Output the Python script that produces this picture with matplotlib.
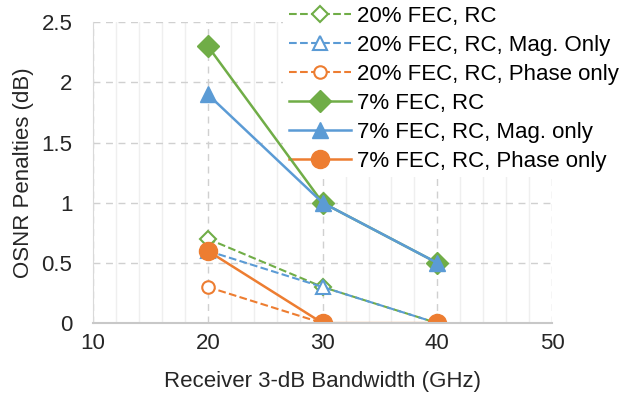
import matplotlib.pyplot as plt
from matplotlib.ticker import MultipleLocator

plt.rcParams['font.family'] = ['Liberation Sans', 'DejaVu Sans']

bandwidth = [20, 30, 40]
fec20_rc = [0.7, 0.3, 0.0]
fec20_mag = [0.6, 0.3, 0.0]
fec20_phase = [0.3, 0.0, 0.0]
fec7_rc = [2.3, 1.0, 0.5]
fec7_mag = [1.9, 1.0, 0.5]
fec7_phase = [0.6, 0.0, 0.0]

y_ticks = [0, 0.5, 1, 1.5, 2, 2.5]
y_labels = ['0', '0.5', '1', '1.5', '2', '2.5']
x_ticks = [10, 20, 30, 40, 50]

green = '#70AD47'
blue = '#5B9BD5'
orange = '#ED7D31'

fig = plt.figure(figsize=(6.21, 3.96), dpi=100)
ax = fig.add_axes([0.150, 0.184, 0.739, 0.760])

ax.plot(bandwidth, fec20_rc, '--', color=green, lw=1.5, marker='D', ms=8,
        mfc='white', mec=green, mew=1.5, label='20% FEC, RC')
ax.plot(bandwidth, fec20_mag, '--', color=blue, lw=1.5, marker='^', ms=10,
        mfc='white', mec=blue, mew=1.5, label='20% FEC, RC, Mag. Only')
ax.plot(bandwidth, fec20_phase, '--', color=orange, lw=1.5, marker='o', ms=9,
        mfc='white', mec=orange, mew=1.5, label='20% FEC, RC, Phase only')
ax.plot(bandwidth, fec7_rc, '-', color=green, lw=1.8, marker='D', ms=11,
        mfc=green, mec=green, label='7% FEC, RC')
ax.plot(bandwidth, fec7_mag, '-', color=blue, lw=1.8, marker='^', ms=12,
        mfc=blue, mec=blue, label='7% FEC, RC, Mag. only')
ax.plot(bandwidth, fec7_phase, '-', color=orange, lw=1.8, marker='o', ms=13,
        mfc=orange, mec=orange, label='7% FEC, RC, Phase only')

ax.set_xlim(10, 50)
ax.set_ylim(0, 2.5)
ax.set_xticks(x_ticks)
ax.xaxis.set_minor_locator(MultipleLocator(2))
ax.set_yticks(y_ticks, labels=y_labels)

ax.grid(which='major', color='#d0d0d0', ls=(0, (5, 4)), lw=1)
ax.grid(which='minor', axis='x', color='#efefef', ls='-', lw=1)
ax.set_axisbelow(True)

for s in ['top', 'right']:
    ax.spines[s].set_visible(False)
ax.spines['left'].set_color('#d9d9d9')
ax.spines['bottom'].set_color('#c8c8c8')
ax.spines['bottom'].set_linewidth(1.5)
ax.tick_params(which='both', length=0, labelsize=16, colors='#262626')
ax.tick_params(axis='x', pad=7)
ax.tick_params(axis='y', pad=15)

ax.set_xlabel('Receiver 3-dB Bandwidth (GHz)', fontsize=16, color='#262626', labelpad=12)
ax.set_ylabel('OSNR Penalties (dB)', fontsize=16, color='#262626', labelpad=5)

# legend sits over the grid but under the data lines
leg = ax.legend(loc='upper left', bbox_to_anchor=(283 / 621, 1.0),
                bbox_transform=fig.transFigure, frameon=True,
                fontsize=16, handlelength=2.8, handletextpad=0.3,
                labelspacing=0.36, borderaxespad=0, borderpad=0.25)
leg.get_frame().set_facecolor('white')
leg.get_frame().set_edgecolor('none')
leg.get_frame().set_alpha(1)
leg.set_zorder(1.5)

fig.savefig('out.png', dpi=100)
